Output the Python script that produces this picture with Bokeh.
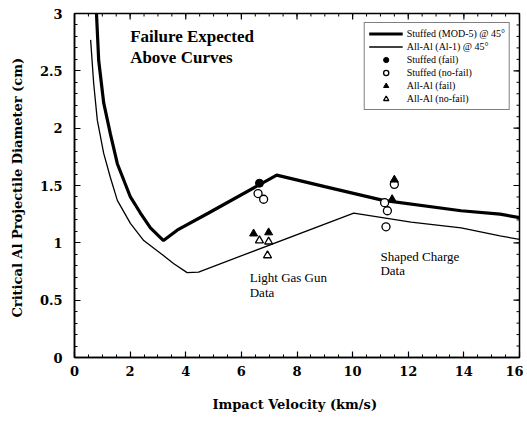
import math
from bokeh.plotting import figure
from bokeh.models import Range1d, Legend, LegendItem, FixedTicker
from bokeh.core.properties import value
from bokeh.embed import file_html
from bokeh.resources import INLINE

# Curves
stuffed_x = [0.79, 0.87, 1.05, 1.29, 1.54, 2.01, 2.37, 2.73, 3.2, 3.69, 4.82, 7.27, 9.0, 11.1, 13.9, 15.3, 16.0]
stuffed_y = [3.0, 2.59, 2.22, 1.95, 1.69, 1.40, 1.26, 1.13, 1.02, 1.11, 1.26, 1.59, 1.49, 1.37, 1.28, 1.25, 1.22]
allal_x = [0.58, 0.69, 0.82, 1.05, 1.29, 1.54, 2.01, 2.49, 3.09, 3.56, 4.05, 4.46, 10.04, 12.1, 13.9, 15.3, 16.0]
allal_y = [2.77, 2.39, 2.07, 1.78, 1.57, 1.37, 1.17, 1.02, 0.91, 0.82, 0.74, 0.745, 1.26, 1.18, 1.13, 1.06, 1.03]

# Test data
stuffed_fail_x = [6.65]
stuffed_fail_y = [1.52]
stuffed_nofail_x = [6.6, 6.8, 11.15, 11.25, 11.2, 11.5]
stuffed_nofail_y = [1.43, 1.38, 1.35, 1.28, 1.14, 1.51]
allal_fail_x = [6.44, 6.98, 11.42, 11.5]
allal_fail_y = [1.08, 1.09, 1.38, 1.55]
allal_nofail_x = [6.65, 6.98, 6.94]
allal_nofail_y = [1.02, 1.01, 0.89]

# Annotations
notes_text = ["Light Gas Gun", "Data", "Shaped Charge", "Data"]
notes_x = [6.3, 6.3, 11.0, 11.0]
notes_y = [0.76, 0.63, 0.95, 0.82]
title_text = ["Failure Expected", "Above Curves"]
title_x = [2.0, 2.0]
title_y = [2.88, 2.70]

x_ticks = [0, 2, 4, 6, 8, 10, 12, 14, 16]
x_minor = [i * 0.5 for i in range(33)]
y_ticks = [0, 0.5, 1, 1.5, 2, 2.5, 3]
y_minor = [round(i * 0.1, 1) for i in range(31)]
y_tick_labels = {0: "0", 0.5: "0.5", 1: "1", 1.5: "1.5", 2: "2", 2.5: "2.5", 3: "3"}

SERIF = "DejaVu Serif"
TIMES = "Liberation Serif"

p = figure(frame_width=445, frame_height=344, output_backend="svg", toolbar_location=None,
           x_range=Range1d(0, 16), y_range=Range1d(0, 3),
           min_border_left=74, min_border_top=13, min_border_bottom=60, min_border_right=4)
p.xgrid.visible = False
p.ygrid.visible = False
p.outline_line_color = "black"
p.outline_line_width = 1.5
p.background_fill_color = "white"
p.border_fill_color = "white"

def style_axis(ax):
    ax.axis_line_width = 1.5
    ax.axis_line_color = "black"
    ax.major_tick_in = 6
    ax.major_tick_out = 0
    ax.minor_tick_in = 3
    ax.minor_tick_out = 0
    ax.major_tick_line_width = 1.2
    ax.minor_tick_line_width = 1
    ax.major_tick_line_color = "black"
    ax.minor_tick_line_color = "black"
    ax.major_label_text_font = SERIF
    ax.major_label_text_font_style = "bold"
    ax.major_label_text_font_size = "13px"
    ax.major_label_text_color = "black"
    ax.axis_label_text_font = SERIF
    ax.axis_label_text_font_style = "bold"
    ax.axis_label_text_font_size = "13px"
    ax.axis_label_text_color = "black"

xa = p.xaxis[0]
ya = p.yaxis[0]
style_axis(xa)
style_axis(ya)
xa.ticker = FixedTicker(ticks=x_ticks, minor_ticks=x_minor)
ya.ticker = FixedTicker(ticks=y_ticks, minor_ticks=y_minor)
ya.major_label_overrides = y_tick_labels
xa.axis_label = "Impact Velocity  (km/s)"
ya.axis_label = "Critical Al Projectile Diameter  (cm)"
xa.major_label_standoff = 8
xa.axis_label_standoff = 18
ya.major_label_standoff = 12
ya.axis_label_standoff = 12

# ticks on top and right edges
p.ray(x=x_ticks, y=[3] * len(x_ticks), length=6, angle=-math.pi / 2,
      length_units="screen", line_color="black", line_width=1.2)
p.ray(x=x_minor, y=[3] * len(x_minor), length=3, angle=-math.pi / 2,
      length_units="screen", line_color="black", line_width=1)
p.ray(x=[16] * len(y_ticks), y=y_ticks, length=6, angle=math.pi,
      length_units="screen", line_color="black", line_width=1.2)
p.ray(x=[16] * len(y_minor), y=y_minor, length=3, angle=math.pi,
      length_units="screen", line_color="black", line_width=1)

r_stuffed = p.line(stuffed_x, stuffed_y, line_color="black", line_width=3.2)
r_allal = p.line(allal_x, allal_y, line_color="black", line_width=1.3)

r_sf = p.scatter(stuffed_fail_x, stuffed_fail_y, marker="circle", size=8,
                 fill_color="black", line_color="black")
r_snf = p.scatter(stuffed_nofail_x, stuffed_nofail_y, marker="circle", size=8,
                  fill_color="white", line_color="black", line_width=1.3)
r_af = p.scatter(allal_fail_x, allal_fail_y, marker="triangle", size=8,
                 fill_color="black", line_color="black")
r_anf = p.scatter(allal_nofail_x, allal_nofail_y, marker="triangle", size=8,
                  fill_color="white", line_color="black", line_width=1.3)

p.text(x=title_x, y=title_y, text=title_text, text_font=value(TIMES),
       text_font_style="bold", text_font_size="17px", text_baseline="top",
       text_color="black")
p.text(x=notes_x, y=notes_y, text=notes_text, text_font=value(TIMES),
       text_font_size="13px", text_baseline="top", text_color="black")

legend = Legend(items=[
    LegendItem(label="Stuffed (MOD-5) @ 45°", renderers=[r_stuffed]),
    LegendItem(label="All-Al (Al-1) @ 45°", renderers=[r_allal]),
    LegendItem(label="Stuffed (fail)", renderers=[r_sf]),
    LegendItem(label="Stuffed (no-fail)", renderers=[r_snf]),
    LegendItem(label="All-Al (fail)", renderers=[r_af]),
    LegendItem(label="All-Al (no-fail)", renderers=[r_anf]),
], location="top_right")
legend.margin = 9
legend.padding = 4
legend.spacing = 0
legend.label_height = 13
legend.glyph_height = 13
legend.glyph_width = 34
legend.label_standoff = 4
legend.label_text_font = TIMES
legend.label_text_font_size = "10px"
legend.label_text_color = "black"
legend.border_line_color = "black"
legend.border_line_width = 1.5
legend.background_fill_alpha = 1
p.add_layout(legend, "center")

open("out.html", "w").write(file_html(p, INLINE))
